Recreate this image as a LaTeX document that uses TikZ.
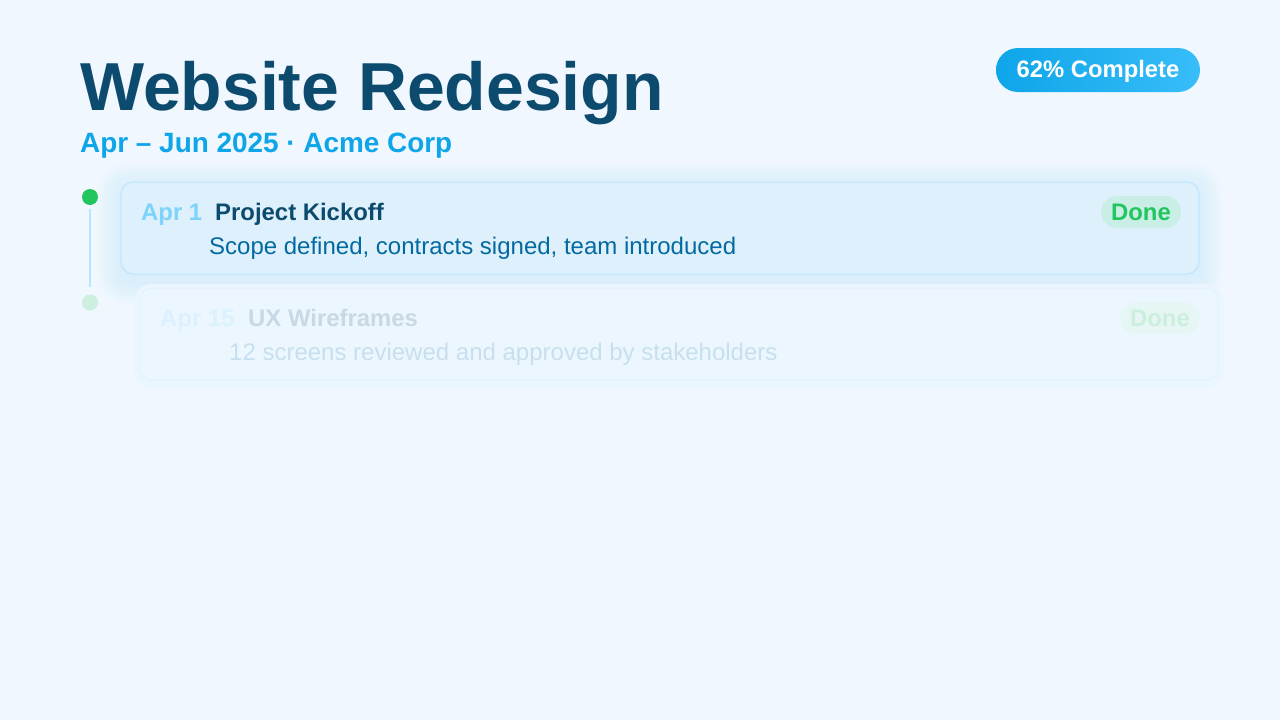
\documentclass[tikz,border=0pt]{standalone}
\usepackage{fontspec}
\setmainfont{Liberation Sans}
\definecolor{bgc}{HTML}{F0F7FE}
\definecolor{titlec}{HTML}{0C4A6E}
\definecolor{subc}{HTML}{0EA5E9}
\definecolor{subc2}{HTML}{38BDF8}
\definecolor{cardfill}{HTML}{DDF0FC}
\definecolor{cardline}{HTML}{BAE6FD}
\definecolor{glowc}{HTML}{A5DCFB}
\definecolor{datec}{HTML}{7DD3FC}
\definecolor{descc}{HTML}{0369A1}
\definecolor{greenc}{HTML}{22C55E}
\definecolor{donefill}{HTML}{C9EEE6}
\definecolor{fcardfill}{HTML}{ECF6FE}
\definecolor{fcardline}{HTML}{E3F1FD}
\definecolor{fglowc}{HTML}{EAF5FE}
\definecolor{fdatec}{HTML}{DBF1FE}
\definecolor{ftitlec}{HTML}{C8D9E5}
\definecolor{fdescc}{HTML}{C7DFEE}
\definecolor{fgreenc}{HTML}{CCEFDD}
\definecolor{fdonefill}{HTML}{E6F6F4}
\definecolor{fdotc}{HTML}{CDEFE0}
\begin{document}
\begin{tikzpicture}[x=1pt,y=-1pt,
  txt/.style={anchor=base west, inner sep=0pt},
  cardtext/.style={txt, font=\fontsize{24}{28}\selectfont},
  cardbold/.style={txt, font=\bfseries\fontsize{23.9}{28}\selectfont},
  cardbox/.style={rectangle, rounded corners=12pt, minimum width=1078pt, minimum height=92pt, inner sep=0pt, line width=1pt},
  pill/.style={rectangle, rounded corners=16pt, minimum width=80pt, minimum height=32pt, inner sep=0pt},
  dotnode/.style={circle, minimum size=16pt, inner sep=0pt}]
\useasboundingbox (0,0) rectangle (1280,720);
\fill[bgc] (0,0) rectangle (1280,720);

% header
\node[txt, font=\bfseries\fontsize{67.9}{72}\selectfont, text=titlec] (title) at (80,110) {Website Redesign};
\node[txt, font=\bfseries\fontsize{27.9}{32}\selectfont, text=subc] (subtitle) at (80,152) {Apr – Jun 2025 · Acme Corp};
\node[rectangle, rounded corners=22pt, minimum width=204pt, minimum height=44pt, inner sep=0pt, left color=subc, right color=subc2] (badge) at (1098,70) {};
\node[anchor=base, inner sep=0pt, font=\bfseries\fontsize{23.8}{28}\selectfont, text=white] (badgetext) at (1098,77.5) {62\% Complete};

% glows
\foreach \i [evaluate=\i as \r using 12+2*\i, evaluate=\i as \d using 2.6*\i] in {1,...,9} {
  \fill[glowc, opacity=0.03, rounded corners=\r pt] (121-\d,182-\d+5) rectangle (1199+\d,274+\d+7);
}
\fill[fglowc, rounded corners=18pt] (134,284) rectangle (1224,388);

% second (fading) card
\node[cardbox, draw=fcardline, fill=fcardfill] (card2) at (679,334) {};
\node[cardbold, text=fdatec] (date2) at (160,326) {Apr 15};
\node[cardbold, text=ftitlec] (name2) at (248,326) {UX Wireframes};
\node[cardtext, text=fdescc] (desc2) at (229,360) {12 screens reviewed and approved by stakeholders};
\node[pill, fill=fdonefill] (pill2) at (1160,318) {};
\node[anchor=base, inner sep=0pt, font=\bfseries\fontsize{23.9}{28}\selectfont, text=fgreenc] (done2) at (1160,326.5) {Done};

% first card
\node[cardbox, draw=cardline, fill=cardfill] (card1) at (660,228) {};
\node[cardbold, text=datec] (date1) at (141,220) {Apr 1};
\node[cardbold, text=titlec] (name1) at (215,220) {Project Kickoff};
\node[cardtext, text=descc] (desc1) at (209,254) {Scope defined, contracts signed, team introduced};
\node[pill, fill=donefill] (pill1) at (1141,212) {};
\node[anchor=base, inner sep=0pt, font=\bfseries\fontsize{23.9}{28}\selectfont, text=greenc] (done1) at (1141,220.5) {Done};

% timeline
\node[dotnode, fill=greenc] (dot1) at (90,197) {};
\node[dotnode, fill=fdotc] (dot2) at (90,302.5) {};
\draw[cardline, line width=2pt, shorten <=4pt, shorten >=7pt] (dot1.south) -- (dot2.north);
\end{tikzpicture}
\end{document}
